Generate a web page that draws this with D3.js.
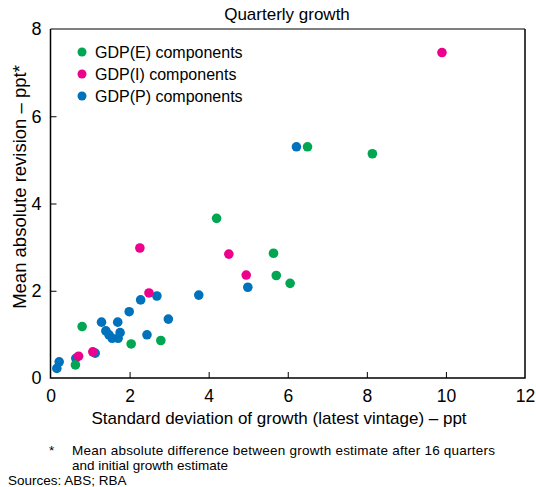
<meta charset="utf-8">
<head>
    <script src="https://cdn.jsdelivr.net/npm/d3@7"></script>
    <style>
        body { margin: 0; background: #fff; }
        text { font-family: "Liberation Sans", Arial, sans-serif; fill: #000; }
    </style>
</head>
<body>
    <svg width=536 height=487></svg>
</body>
<script>
    // series: [std dev of growth, mean absolute revision]
    let seriesNames = ["GDP(E) components", "GDP(I) components", "GDP(P) components"];
    let seriesColors = ["#00a651", "#ec008c", "#0072bc"];

    let gdpE = [
        [6.50, 5.30], [8.14, 5.14], [4.20, 3.66], [5.64, 2.86], [5.71, 2.35],
        [6.06, 2.17], [0.80, 1.18], [2.04, 0.78], [2.79, 0.86], [0.63, 0.30]
    ];
    let gdpI = [
        [9.90, 7.46], [2.26, 2.98], [4.51, 2.84], [4.95, 2.36], [2.49, 1.95],
        [1.07, 0.60], [0.71, 0.50]
    ];
    let gdpP = [
        [6.22, 5.30], [3.75, 1.90], [4.99, 2.08], [2.69, 1.88], [2.28, 1.79],
        [1.99, 1.52], [2.98, 1.35], [1.29, 1.28], [1.70, 1.28], [1.40, 1.08],
        [1.48, 0.99], [1.56, 0.91], [1.76, 1.04], [1.71, 0.91], [2.44, 0.99],
        [1.13, 0.57], [0.22, 0.37], [0.16, 0.22], [0.64, 0.45]
    ];
    let xTicks = [0, 2, 4, 6, 8, 10, 12];
    let yTicks = [0, 2, 4, 6, 8];

    let plotLeft = 50.5, plotRight = 525, plotTop = 29, plotBottom = 378;

    let x = d3.scaleLinear().domain([0, 12]).range([plotLeft, plotRight]);
    let y = d3.scaleLinear().domain([0, 8]).range([plotBottom, plotTop]);

    let svg = d3.select('svg');

    // title
    svg.append("text")
        .attr("x", 287).attr("y", 20)
        .attr("text-anchor", "middle")
        .attr("font-size", 17)
        .text("Quarterly growth");

    // frame
    svg.append("line")
        .attr("x1", plotLeft).attr("x2", plotRight).attr("y1", plotTop).attr("y2", plotTop)
        .attr("stroke", "#7f7f7f").attr("stroke-width", 2);
    svg.append("path")
        .attr("d", `M${plotLeft},${plotTop}V${plotBottom}H${plotRight}V${plotTop}`)
        .attr("fill", "none").attr("stroke", "#000").attr("stroke-width", 1.5);

    // axes, ticks pointing inwards
    let xAxis = d3.axisBottom(x).tickValues(xTicks).tickSizeInner(-6).tickSizeOuter(0).tickPadding(12);
    let gx = svg.append("g").attr("transform", `translate(0, ${plotBottom})`).call(xAxis);
    gx.select(".domain").remove();
    gx.selectAll(".tick line").attr("stroke", "#000").filter(d => d === 0 || d === 12).remove();
    gx.selectAll("text").attr("font-size", 17.5).attr("font-family", "Liberation Sans, Arial, sans-serif");

    let yAxis = d3.axisLeft(y).tickValues(yTicks).tickSizeInner(-6).tickSizeOuter(0).tickPadding(9);
    let gy = svg.append("g").attr("transform", `translate(${plotLeft}, 0)`).call(yAxis);
    gy.select(".domain").remove();
    gy.selectAll(".tick line").attr("stroke", "#000").filter(d => d === 0 || d === 8).remove();
    gy.selectAll("text").attr("font-size", 18).attr("font-family", "Liberation Sans, Arial, sans-serif");

    // axis titles
    svg.append("text")
        .attr("x", 279).attr("y", 424)
        .attr("text-anchor", "middle")
        .attr("font-size", 17)
        .text("Standard deviation of growth (latest vintage) – ppt");

    svg.append("text")
        .attr("transform", "translate(26, 187) rotate(-90)")
        .attr("text-anchor", "middle")
        .attr("font-size", 18.5)
        .text("Mean absolute revision – ppt*");

    // points: blue first, then green, pink on top
    let drawOrder = [[gdpP, 2], [gdpE, 0], [gdpI, 1]];
    drawOrder.forEach(function (s) {
        svg.append("g").selectAll("circle")
            .data(s[0])
            .enter()
            .append("circle")
            .attr("cx", d => x(d[0]))
            .attr("cy", d => y(d[1]))
            .attr("r", 4.8)
            .attr("fill", seriesColors[s[1]]);
    });

    // legend
    let legend = svg.append("g").selectAll("g")
        .data(seriesNames)
        .enter()
        .append("g")
        .attr("transform", (d, i) => `translate(82, ${52 + i * 22})`);
    legend.append("circle").attr("r", 4.5).attr("fill", (d, i) => seriesColors[i]);
    legend.append("text")
        .attr("x", 13).attr("dy", ".35em")
        .attr("font-size", 16)
        .text(d => d);

    // footnotes
    svg.append("text").attr("x", 49).attr("y", 455).attr("font-size", 13.5).text("*");
    svg.append("text").attr("x", 72).attr("y", 455).attr("font-size", 13.5)
        .attr("textLength", 423).attr("lengthAdjust", "spacing")
        .text("Mean absolute difference between growth estimate after 16 quarters");
    svg.append("text").attr("x", 72).attr("y", 470).attr("font-size", 13.5)
        .text("and initial growth estimate");
    svg.append("text").attr("x", 8).attr("y", 485).attr("font-size", 13.5)
        .text("Sources: ABS; RBA");
</script>
